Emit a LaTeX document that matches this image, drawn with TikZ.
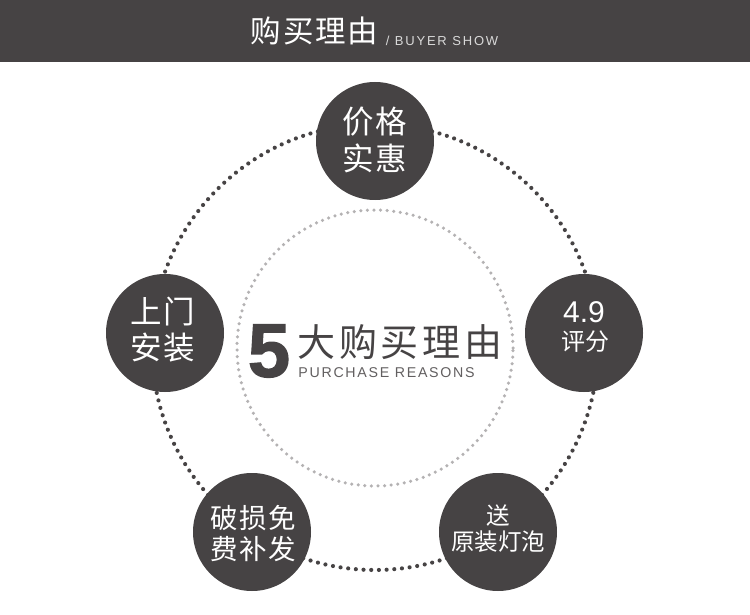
\documentclass[tikz,border=0pt]{standalone}
\usepackage{fontspec}
\setmainfont{Liberation Sans}
\newfontfamily\cjk{Noto Sans CJK SC}
\newfontfamily\cjkw[LetterSpace=6]{Noto Sans CJK SC}
\newfontfamily\cjkm[LetterSpace=10]{Noto Sans CJK SC}
\newfontfamily\latinw[LetterSpace=14]{Liberation Sans}
\newfontfamily\latinr[LetterSpace=12]{Liberation Sans}
\newfontfamily\heavy[FakeBold=1.6]{Liberation Sans Bold}
\definecolor{darkbar}{HTML}{464344}
\definecolor{ringgrey}{HTML}{B4B2B3}
\newcommand{\cs}[2]{\fontsize{#1}{#2}\selectfont}
\tikzset{
  feature/.style={circle,fill=darkbar,draw=none,minimum size=118pt,inner sep=0pt},
  ringdots/.style={line cap=round,dash pattern=on 0pt off 7.7pt},
  plain/.style={inner sep=0pt,outer sep=0pt,anchor=center},
  ftext/.style={plain,text=white,align=center}
}
\begin{document}
\begin{tikzpicture}[x=1pt,y=-1pt]
\useasboundingbox (0,0) rectangle (750,615);
\fill[white] (0,0) rectangle (750,615);
\fill[darkbar] (0,0) rectangle (750,62);
\coordinate (c) at (375,347);
\draw[ringdots,darkbar,line width=4.15pt] (c) circle[radius=223pt];
\draw[ringdots,ringgrey,line width=3.5pt,dash pattern=on 0pt off 6.6pt] (375,348) circle[radius=138pt];
\node[plain,text=white,font=\cjkw\cs{30.5}{32}] (title) at (314.5,30.5) {购买理由};
\node[plain,text=white!85!black,font=\latinw\cs{13}{14}] (titleen) at (442,41) {/ BUYER SHOW};
\node[feature] (a) at (375,141) {};
\node[feature] (b) at (584,333) {};
\node[feature] (cc) at (498,532) {};
\node[feature] (d) at (252,532) {};
\node[feature] (e) at (165,333) {};
\node[ftext,font=\cjkw\cs{31.5}{37}] (at) at (375,140) {价格\\实惠};
\node[ftext,font=\cs{30}{30}] (bt1) at (584,312) {4.9};
\node[ftext,font=\cjk\cs{24}{28}] (bt2) at (585,342) {评分};
\node[ftext,font=\cjk\cs{23.5}{26}] (ct) at (498,529) {送\\原装灯泡};
\node[ftext,font=\cjkw\cs{27.5}{31}] (dt) at (253.5,534) {破损免\\费补发};
\node[ftext,font=\cjkw\cs{31.5}{36}] (et) at (163,330) {上门\\安装};
\node[plain,text=darkbar,font=\heavy\cs{76}{76}] (five) at (269,351) {5};
\node[plain,text=darkbar,font=\cjkm\cs{38}{40}] (mid) at (400,342) {大购买理由};
\node[plain,text=darkbar!85,font=\latinr\cs{14.2}{16}] (en) at (386.5,373) {PURCHASE REASONS};
\end{tikzpicture}
\end{document}
